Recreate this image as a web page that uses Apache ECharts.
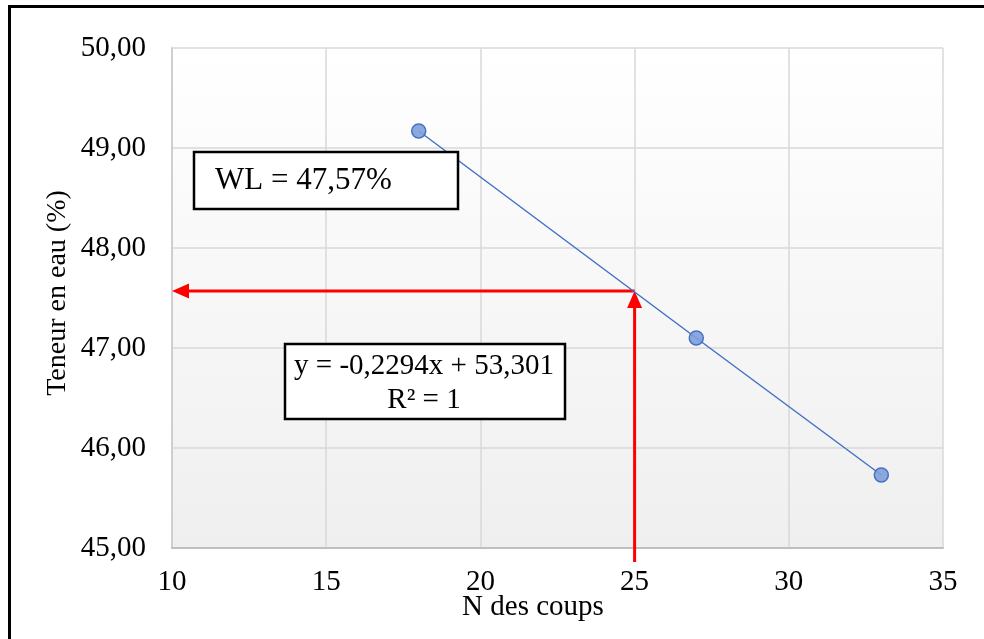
<!DOCTYPE html>
<html>
<head>
<meta charset="utf-8">
<script src="https://cdn.jsdelivr.net/npm/echarts@6/dist/echarts.min.js"></script>
<style>
  html, body { margin: 0; padding: 0; background: #ffffff; }
  #chart { width: 984px; height: 639px; }
</style>
</head>
<body>
<div id="chart"></div>
<script>
// Measured points: number of blows vs. water content (%)
const blows = [18, 27, 33];
const waterContent = [49.17, 47.10, 45.73];

// Liquid limit read at 25 blows
const refBlows = 25;
const liquidLimit = 47.57;
const arrowBase = 44.86;        // vertical guide starts just under the x axis

// Axis ranges and tick steps
const xRange = [10, 35];
const xStep = 5;
const yRange = [45, 50];
const yStep = 1;

// Trend line annotation
const equationText = 'y = -0,2294x + 53,301';
const r2Text = 'R² = 1';

const FONT = "'Liberation Serif', 'Times New Roman', serif";
const fmt = (v, d) => v.toFixed(d).replace('.', ',');

const points = blows.map((b, i) => [b, waterContent[i]]);
const guideArrows = [
  [refBlows, liquidLimit, xRange[0], liquidLimit],
  [refBlows, arrowBase, refBlows, liquidLimit]
];

const chart = echarts.init(document.getElementById('chart'), null, { renderer: 'canvas' });

chart.setOption({
  animation: false,
  backgroundColor: '#ffffff',
  grid: {
    left: 172, top: 48, right: 41, bottom: 91,
    show: true,
    borderWidth: 0,
    backgroundColor: new echarts.graphic.LinearGradient(0, 0, 0, 1, [
      { offset: 0, color: '#ffffff' },
      { offset: 1, color: '#efefef' }
    ])
  },
  xAxis: {
    type: 'value',
    min: xRange[0], max: xRange[1], interval: xStep,
    axisLine: { show: true, lineStyle: { color: '#bfbfbf', width: 2 } },
    axisTick: { show: false },
    axisLabel: { color: '#000', fontFamily: FONT, fontSize: 29, margin: 20 },
    splitLine: { show: true, lineStyle: { color: '#d9d9d9', width: 1.5 } }
  },
  yAxis: {
    type: 'value',
    min: yRange[0], max: yRange[1], interval: yStep,
    axisLine: { show: true, lineStyle: { color: '#cfcfcf', width: 2 } },
    axisTick: { show: false },
    axisLabel: {
      color: '#000', fontFamily: FONT, fontSize: 29, margin: 26,
      formatter: v => fmt(v, 2)
    },
    splitLine: { show: true, lineStyle: { color: '#d9d9d9', width: 1.5 } }
  },
  series: [
    {
      type: 'custom',
      clip: false,
      silent: true,
      z: 3,
      encode: { x: [0, 2], y: [1, 3] },
      data: guideArrows,
      renderItem: function (params, api) {
        const p1 = api.coord([api.value(0), api.value(1)]);
        const p2 = api.coord([api.value(2), api.value(3)]);
        const dx = p2[0] - p1[0], dy = p2[1] - p1[1];
        const len = Math.hypot(dx, dy);
        const ux = dx / len, uy = dy / len;
        const headLen = 17, headHalf = 7.5;
        const bx = p2[0] - ux * headLen, by = p2[1] - uy * headLen;
        return {
          type: 'group',
          children: [
            { type: 'line', shape: { x1: p1[0], y1: p1[1], x2: bx, y2: by },
              style: { stroke: '#ff0000', lineWidth: 3 } },
            { type: 'polygon',
              shape: { points: [[p2[0], p2[1]],
                                [bx - uy * headHalf, by + ux * headHalf],
                                [bx + uy * headHalf, by - ux * headHalf]] },
              style: { fill: '#ff0000' } }
          ]
        };
      }
    },
    {
      type: 'line',
      z: 4,
      data: points,
      symbol: 'circle',
      symbolSize: 14,
      lineStyle: { color: '#4472c4', width: 1.5 },
      itemStyle: { color: 'rgba(128,158,218,0.9)', borderColor: '#4472c4', borderWidth: 1.5 }
    }
  ],
  graphic: [
    // outer frame
    { type: 'rect', z: 10, shape: { x: 9.5, y: 6.5, width: 1000, height: 1000 },
      style: { fill: null, stroke: '#000', lineWidth: 3 } },
    // axis titles
    { type: 'text', z: 10, x: 533, y: 607,
      style: { text: 'N des coups', font: '29px ' + FONT, fill: '#000',
               textAlign: 'center', textVerticalAlign: 'middle' } },
    { type: 'text', z: 10, x: 58, y: 293, rotation: Math.PI / 2,
      style: { text: 'Teneur en eau (%)', font: '28px ' + FONT, fill: '#000',
               textAlign: 'center', textVerticalAlign: 'middle' } },
    // liquid limit box
    { type: 'rect', z: 10, shape: { x: 194, y: 152, width: 264, height: 57 },
      style: { fill: '#ffffff', stroke: '#000', lineWidth: 2.5 } },
    { type: 'text', z: 11, x: 215, y: 181,
      style: { text: 'WL = ' + fmt(liquidLimit, 2) + '%', font: '31px ' + FONT, fill: '#000',
               textAlign: 'left', textVerticalAlign: 'middle' } },
    // trend line equation box
    { type: 'rect', z: 10, shape: { x: 285, y: 344, width: 280, height: 75 },
      style: { fill: '#ffffff', stroke: '#000', lineWidth: 2.5 } },
    { type: 'text', z: 11, x: 424, y: 366,
      style: { text: equationText, font: '29px ' + FONT, fill: '#000',
               textAlign: 'center', textVerticalAlign: 'middle' } },
    { type: 'text', z: 11, x: 424, y: 400,
      style: { text: r2Text, font: '29px ' + FONT, fill: '#000',
               textAlign: 'center', textVerticalAlign: 'middle' } }
  ]
});
</script>
</body>
</html>
